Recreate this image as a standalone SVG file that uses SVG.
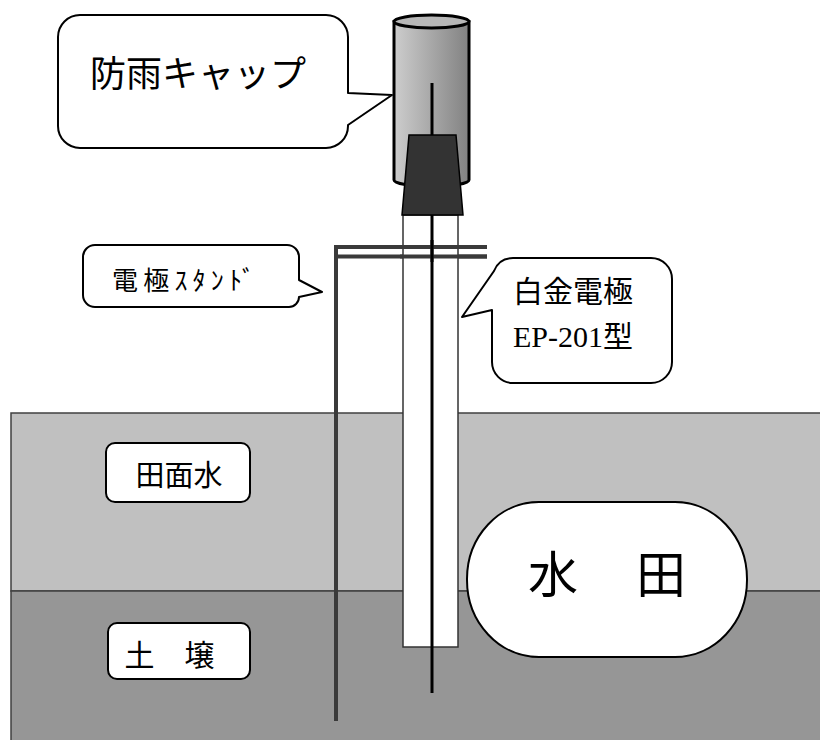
<svg xmlns="http://www.w3.org/2000/svg" width="820" height="740" viewBox="0 0 820 740">
  <defs>
    <linearGradient id="capShade" x1="0" y1="0" x2="1" y2="0">
      <stop offset="0" stop-color="#cdcdcd"/>
      <stop offset="1" stop-color="#828282"/>
    </linearGradient>
    <style>
      .txt { font-family: "Liberation Serif", "Noto Sans CJK JP", serif; fill: #000; }
      .bubble { fill: #fff; stroke: #000; stroke-width: 2; stroke-linejoin: round; }
      .layer { stroke: #404040; stroke-width: 1.5; }
      .stand { stroke: #3a3a3a; stroke-width: 4; fill: none; }
      .tube { fill: #fff; stroke: #333; stroke-width: 1.5; }
      .wire { stroke: #000; stroke-width: 3; }
    </style>
  </defs>

  <rect width="820" height="740" fill="#fff"/>

  <!-- ground layers: standing water over soil -->
  <g id="layers">
    <rect class="layer" x="11" y="413" width="815" height="178" fill="#c0c0c0"/>
    <rect class="layer" x="11" y="591" width="815" height="160" fill="#969696"/>
  </g>

  <!-- electrode stand -->
  <g id="stand">
    <line class="stand" x1="336" y1="245" x2="336" y2="721"/>
    <line class="stand" x1="334" y1="247" x2="487" y2="247"/>
    <line class="stand" x1="336" y1="256.5" x2="487" y2="256.5"/>
  </g>

  <!-- electrode tube and platinum wire -->
  <g id="electrode">
    <rect class="tube" x="403" y="215" width="55" height="432"/>
    <line class="wire" x1="432" y1="83" x2="432" y2="693"/>
    <line class="stand" x1="400" y1="247" x2="487" y2="247"/>
    <line class="stand" x1="400" y1="256.5" x2="487" y2="256.5"/>
    <line class="wire" x1="432" y1="240" x2="432" y2="262"/>
  </g>

  <!-- rain cap -->
  <g id="rain-cap">
    <path d="M394,21.5 V180 A37.5,6.5 0 0 0 469,180 V21.5 Z" fill="url(#capShade)" stroke="#000" stroke-width="3"/>
    <ellipse cx="431.5" cy="21.5" rx="37.5" ry="6.5" fill="#b8b8b8" stroke="#000" stroke-width="3"/>
    <line class="wire" x1="432" y1="83" x2="432" y2="136"/>
    <path d="M409,135 H456 L463,215 H402 Z" fill="#333" stroke="#000" stroke-width="1.5"/>
  </g>

  <!-- callouts -->
  <g id="label-cap">
    <path class="bubble" d="M80,15 H326 A22,22 0 0 1 348,37 V93 L392,95 L348,125 V126 A22,22 0 0 1 326,148 H80 A22,22 0 0 1 58,126 V37 A22,22 0 0 1 80,15 Z"/>
    <text class="txt" x="90" y="87" font-size="36">防雨キャップ</text>
  </g>

  <g id="label-stand">
    <path class="bubble" d="M95,245 H287 A12,12 0 0 1 299,257 V280 L322,292 L299,297 A10,10 0 0 1 289,307 H95 A12,12 0 0 1 83,295 V257 A12,12 0 0 1 95,245 Z"/>
    <text class="txt" x="112" y="290" font-size="26" textLength="143" lengthAdjust="spacing">電極ｽﾀﾝﾄﾞ</text>
  </g>

  <g id="label-electrode">
    <path class="bubble" d="M513,258 H651 A21,21 0 0 1 672,279 V362 A21,21 0 0 1 651,383 H513 A21,21 0 0 1 492,362 V310 L462,317 L494,271 Q499,258 513,258 Z"/>
    <text class="txt" x="513" y="302" font-size="30">白金電極</text>
    <text class="txt" x="513" y="347" font-size="30">EP-201型</text>
  </g>

  <g id="label-water">
    <rect class="bubble" x="106" y="443" width="144" height="59" rx="9"/>
    <text class="txt" x="179" y="486" font-size="29" text-anchor="middle">田面水</text>
  </g>

  <g id="label-soil">
    <rect class="bubble" x="108" y="623" width="142" height="56" rx="9"/>
    <text class="txt" x="169.5" y="666" font-size="30" text-anchor="middle">土　壌</text>
  </g>

  <g id="label-paddy">
    <rect class="bubble" x="467" y="502" width="280" height="155" rx="72" ry="77"/>
    <text class="txt" x="553" y="593" font-size="50" text-anchor="middle">水</text>
    <text class="txt" x="661" y="593" font-size="50" text-anchor="middle">田</text>
  </g>
</svg>
